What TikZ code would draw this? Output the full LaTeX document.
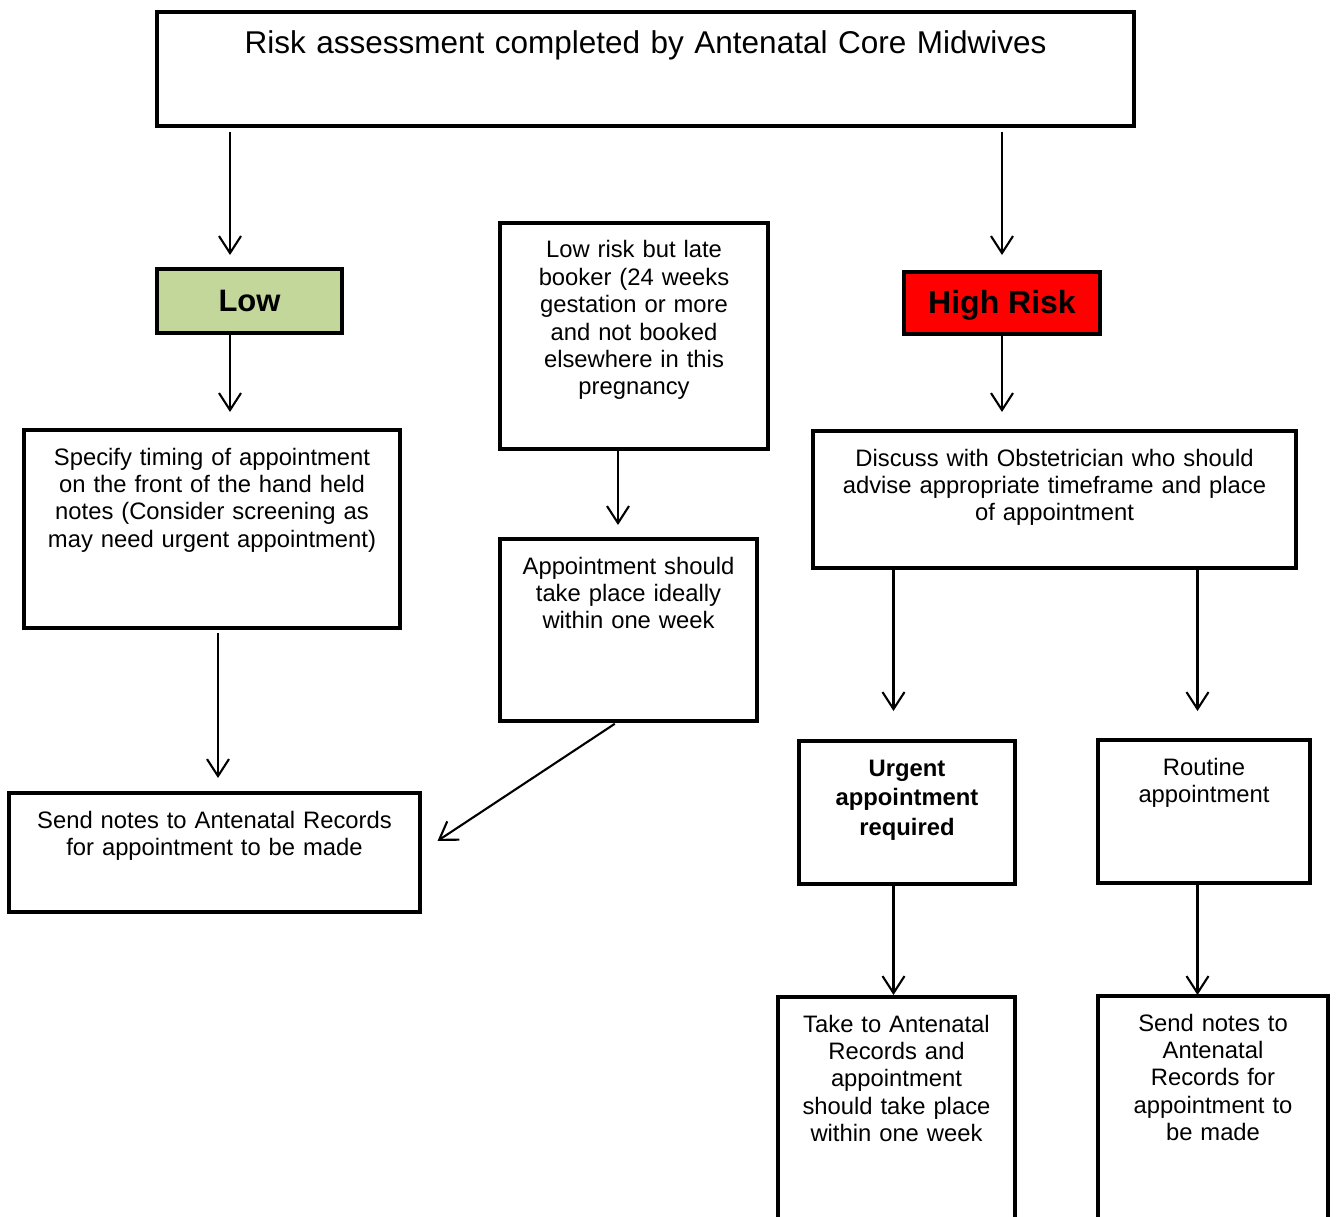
\documentclass[tikz,border=0pt]{standalone}
\usepackage{fontspec}
\setmainfont{Liberation Sans}
\usepackage{xcolor}
\usepackage{tikz}
\usetikzlibrary{positioning}
\usetikzlibrary{arrows.meta}

\definecolor{lowgreen}{RGB}{196,215,155}

\begin{document}
\begin{tikzpicture}[x=1pt,y=-1pt,
    box/.style={draw,line width=4pt,outer sep=0pt,align=center,anchor=north,
                inner xsep=4pt,inner ysep=10pt,text height=25pt,
                font=\fontsize{23.8}{27.4}\selectfont},
    tag/.style={draw,line width=4pt,outer sep=0pt,anchor=north,
                font=\fontsize{31}{36}\selectfont\bfseries},
    flow/.style={draw,-{Straight Barb[length=17pt,width=22pt]},line width=2.1pt}]
\useasboundingbox (0,0) rectangle (1336,1217);

\node[box,text width=969pt,text height=32pt,text depth=62pt,
      font=\fontsize{31.5}{36}\selectfont] (title) at (645.5,12)
      {Risk assessment completed by Antenatal Core Midwives};

\node[tag,fill=lowgreen,minimum width=185pt,minimum height=64pt] (low) at (249.5,269) {Low};
\node[tag,fill=red,minimum width=196pt,minimum height=62pt,
      font=\fontsize{32}{36}\selectfont\bfseries,text depth=3pt] (high) at (1002,272) {High Risk};

\node[box,text width=260pt,text depth=181pt] (late) at (634,223)
      {Low risk but late\\booker (24 weeks\\gestation or more\\and not booked\\elsewhere in this\\pregnancy};
\node[box,text width=368pt,text depth=153pt] (spec) at (212,430)
      {Specify timing of appointment\\on the front of the hand held\\notes (Consider screening as\\may need urgent appointment)};
\node[box,text width=249pt,text depth=137pt] (appt) at (628.5,539)
      {Appointment should\\take place ideally\\within one week};
\node[box,text width=475pt,text depth=92pt] (disc) at (1054.5,431)
      {Discuss with Obstetrician who should\\advise appropriate timeframe and place\\of appointment};
\node[box,text width=403pt,text depth=74pt] (sendl) at (214.5,793)
      {Send notes to Antenatal Records\\for appointment to be made};
\node[box,text width=208pt,text depth=98pt,font=\fontsize{23.8}{29.5}\selectfont\bfseries] (urg) at (907,741)
      {Urgent\\appointment\\required};
\node[box,text width=204pt,text depth=98pt] (rout) at (1204,740)
      {Routine\\appointment};
\node[box,text width=229pt,text depth=235pt] (take) at (896.5,997)
      {Take to Antenatal\\Records and\\appointment\\should take place\\within one week};
\node[box,text width=222pt,text depth=235pt] (sendr) at (1213,996)
      {Send notes to\\Antenatal\\Records for\\appointment to\\be made};

% columns of the arrows
\coordinate (lowcol)  at (230,0);
\coordinate (highcol) at (1002,0);
\coordinate (latecol) at (618,0);
\coordinate (speccol) at (218,0);
\coordinate (diagcol) at (619,0);
\coordinate (urgcol)  at (893.5,0);
\coordinate (routcol) at (1197.5,0);

\path (title.south -| lowcol)  edge [flow,shorten <=6pt,shorten >=14pt] (low.north -| lowcol)
      (title.south -| highcol) edge [flow,shorten <=6pt,shorten >=17pt] (high.north -| highcol)
      (low.south -| lowcol)    edge [flow,shorten <=2pt,shorten >=18pt] (spec.north -| lowcol)
      (high.south -| highcol)  edge [flow,shorten <=2pt,shorten >=19pt] (disc.north -| highcol)
      (late.south -| latecol)  edge [flow,shorten <=2pt,shorten >=14pt] (appt.north -| latecol)
      (spec.south -| speccol)  edge [flow,shorten <=5pt,shorten >=15pt] (sendl.north -| speccol)
      (appt.south -| diagcol)  edge [flow,shorten <=5pt,shorten >=21pt] (sendl.east)
      (disc.south -| urgcol)   edge [flow,shorten <=2pt,shorten >=30pt] (urg.north -| urgcol)
      (disc.south -| routcol)  edge [flow,shorten <=2pt,shorten >=29pt] (rout.north -| routcol)
      (urg.south -| urgcol)    edge [flow,shorten <=2pt,shorten >=2pt]  (take.north -| urgcol)
      (rout.south -| routcol)  edge [flow,shorten <=1pt,shorten >=1pt]  (sendr.north -| routcol);

\end{tikzpicture}
\end{document}
